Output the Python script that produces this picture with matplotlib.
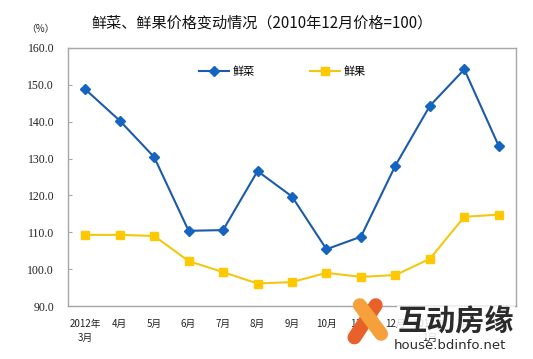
#!/usr/bin/env python3
"""fresh vegetable / fruit price index chart"""

import matplotlib
matplotlib.use("Agg")
import matplotlib.pyplot as plt
from matplotlib.lines import Line2D

plt.rcParams["font.family"] = ["Noto Sans CJK SC", "DejaVu Sans"]

months = ["2012年\n3月", "4月", "5月", "6月", "7月", "8月", "9月", "10月",
          "11月", "12月", "2013年\n1月", "2月", "3月"]
veg = [148.8, 140.3, 130.4, 110.4, 110.6, 126.6, 119.7, 105.4, 108.8,
       128.1, 144.3, 154.2, 133.4]
fruit = [109.3, 109.3, 109.0, 102.2, 99.2, 96.1, 96.5, 99.0, 97.9,
         98.4, 102.8, 114.2, 114.8]
yticks = [90, 100, 110, 120, 130, 140, 150, 160]

BLUE = "#1B5BA8"
BLUE_M = "#1565C0"
YEL = "#F2C811"
YEL_M = "#FFC800"
GRAY = "#A6A6A6"

fig = plt.figure(figsize=(5.33, 3.59), dpi=100)
ax = fig.add_axes([0.1276, 0.1476, 0.8405, 0.7187])
x = range(len(months))
ax.plot(x, veg, color=BLUE, lw=1.5, marker="D", ms=5.5,
        mfc=BLUE_M, mec=BLUE_M, label="鲜菜", zorder=3)
ax.plot(x, fruit, color=YEL, lw=1.5, marker="s", ms=5.5,
        mfc=YEL_M, mec=YEL_M, label="鲜果", zorder=3)

ax.set_xlim(-0.5, len(months) - 0.5)
ax.set_ylim(90, 160)
ax.set_yticks(yticks)
ax.set_yticklabels([f"{v:.1f}" for v in yticks], family="Liberation Serif",
                   fontsize=8.5, color="#222222")
ax.set_xticks(list(x))
ax.set_xticklabels(months, fontsize=7, color="#222222", linespacing=1.5)
ax.tick_params(axis="y", direction="in", length=3, color=GRAY, pad=10)
ax.tick_params(axis="x", length=0, pad=9)
for sp in ax.spines.values():
    sp.set_color(GRAY)
    sp.set_linewidth(1.0)

leg = ax.legend(loc="center", bbox_to_anchor=(0.478, 0.907), ncol=2,
                frameon=False, fontsize=8, handlelength=2.7,
                handletextpad=0.3, columnspacing=5.0)

fig.text(0.492, 0.936, "鲜菜、鲜果价格变动情况（2010年12月价格=100）",
         ha="center", va="center", fontsize=10.9, color="#111111")
fig.text(0.075, 0.918, "（%）", ha="center", va="center", fontsize=7,
         color="#222222")

# watermark
fig.lines.append(Line2D([0.665, 0.705], [0.06, 0.15], transform=fig.transFigure,
                        color="#E8602A", lw=10, solid_capstyle="round", zorder=10))
fig.lines.append(Line2D([0.675, 0.715], [0.15, 0.07], transform=fig.transFigure,
                        color="#F5A03A", lw=10, solid_capstyle="round", zorder=10))
fig.text(0.855, 0.103, "互动房缘", ha="center", va="center", fontsize=21,
         color="#2B2B2B", fontweight="bold", zorder=11,
         bbox=dict(facecolor="white", edgecolor="none", pad=0.5, alpha=0.85))
fig.text(0.845, 0.038, "house.bdinfo.net", ha="center", va="center",
         fontsize=9.5, color="#2B2B2B", family="DejaVu Sans", zorder=11)

fig.savefig("out.png", dpi=100)
